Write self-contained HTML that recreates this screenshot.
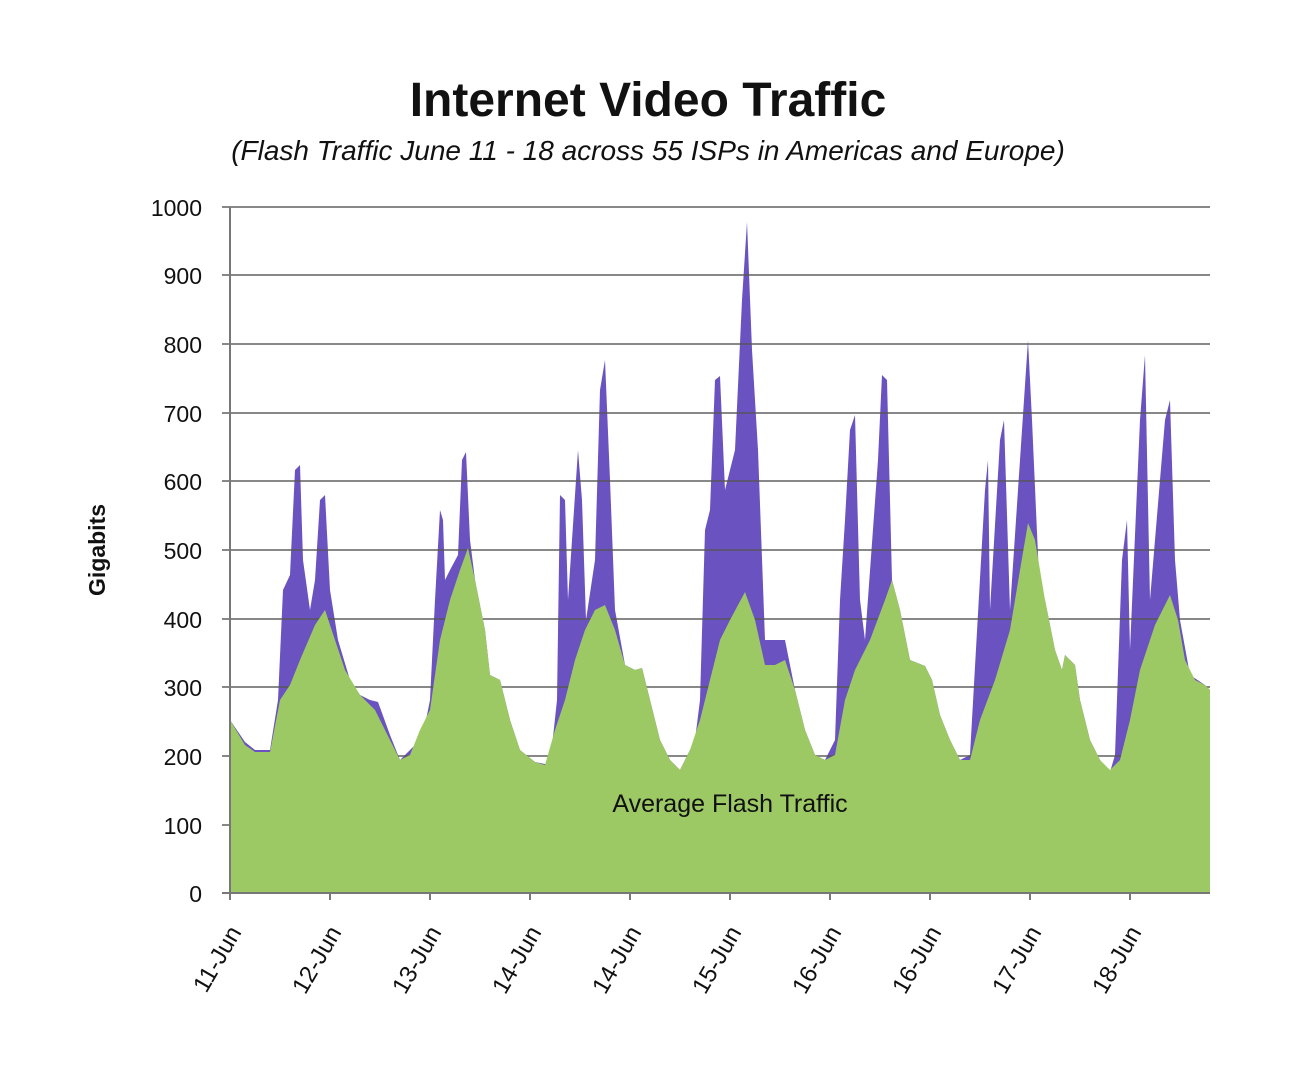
<!DOCTYPE html>
<html><head><style>body{margin:0;background:#fff}</style></head><body>
<svg width="1300" height="1079" viewBox="0 0 1300 1079" xmlns="http://www.w3.org/2000/svg" font-family="Liberation Sans, sans-serif">
<text x="648" y="116" text-anchor="middle" font-size="48" font-weight="bold" fill="#111">Internet Video Traffic</text>
<text x="648" y="160" text-anchor="middle" font-size="28" font-style="italic" fill="#111">(Flash Traffic June 11 - 18 across 55 ISPs in Americas and Europe)</text>
<path fill="#6a52c0" d="M230,720 L245,742 L255,750 L270,750 L278,700 L283,590 L290,575 L295,470 L300,465 L303,560 L310,610 L315,580 L320,500 L325,495 L330,590 L338,640 L350,680 L360,695 L370,700 L378,702 L390,735 L400,760 L415,745 L425,725 L430,700 L435,600 L440,510 L443,520 L445,580 L450,570 L458,555 L462,460 L466,452 L470,540 L475,580 L485,630 L490,675 L500,680 L510,720 L520,750 L535,762 L550,765 L557,700 L560,495 L565,500 L568,600 L572,540 L578,450 L582,500 L586,620 L595,560 L600,390 L605,360 L610,480 L615,610 L625,665 L635,670 L642,668 L650,700 L660,740 L670,760 L680,770 L690,750 L695,740 L700,700 L705,530 L710,510 L715,380 L720,376 L725,490 L735,450 L742,300 L747,222 L752,350 L758,450 L765,640 L775,640 L785,640 L795,690 L805,730 L815,755 L825,760 L835,740 L840,600 L845,520 L850,430 L855,415 L860,600 L865,640 L878,460 L882,375 L887,380 L892,580 L900,610 L910,660 L925,666 L932,680 L940,715 L950,740 L960,760 L970,755 L985,490 L988,460 L990,610 L1000,440 L1004,420 L1010,610 L1022,430 L1028,340 L1032,420 L1040,600 L1045,600 L1055,650 L1062,670 L1065,655 L1075,665 L1080,700 L1090,740 L1100,760 L1110,772 L1115,755 L1122,560 L1127,520 L1130,650 L1140,420 L1145,355 L1150,600 L1165,420 L1170,400 L1175,560 L1180,620 L1190,675 L1205,685 L1210,690 L1210,893 L230,893 Z"/>
<g stroke="#555" stroke-width="2" stroke-opacity="0.7">
<line x1="222" y1="207" x2="1210" y2="207"/><line x1="222" y1="275" x2="1210" y2="275"/><line x1="222" y1="344" x2="1210" y2="344"/><line x1="222" y1="413" x2="1210" y2="413"/><line x1="222" y1="481" x2="1210" y2="481"/><line x1="222" y1="550" x2="1210" y2="550"/><line x1="222" y1="619" x2="1210" y2="619"/><line x1="222" y1="687" x2="1210" y2="687"/><line x1="222" y1="756" x2="1210" y2="756"/><line x1="222" y1="825" x2="1210" y2="825"/>
</g>
<path fill="#9dc965" d="M230,720 L245,745 L255,752 L270,752 L280,700 L290,685 L300,660 L315,625 L325,610 L335,640 L345,670 L360,695 L375,710 L390,740 L400,760 L410,755 L420,730 L430,710 L440,640 L450,600 L460,570 L468,548 L475,580 L485,630 L490,675 L500,680 L510,720 L520,750 L535,762 L545,765 L555,730 L565,700 L575,660 L585,630 L595,610 L605,605 L615,630 L625,665 L635,670 L642,668 L650,700 L660,740 L670,760 L680,770 L690,750 L700,720 L710,680 L720,640 L730,620 L745,592 L755,620 L765,665 L775,665 L785,660 L795,690 L805,730 L815,755 L825,760 L835,755 L845,700 L855,670 L870,640 L885,600 L892,580 L900,610 L910,660 L925,666 L932,680 L940,715 L950,740 L960,760 L970,760 L980,720 L995,680 L1010,630 L1020,570 L1028,523 L1035,540 L1045,600 L1055,650 L1062,670 L1065,655 L1075,665 L1080,700 L1090,740 L1100,760 L1110,770 L1120,760 L1130,720 L1140,670 L1155,625 L1170,595 L1178,620 L1185,660 L1195,680 L1205,685 L1210,690 L1210,893 L230,893 Z"/>
<line x1="222" y1="893" x2="1210" y2="893" stroke="#777" stroke-width="2"/>
<line x1="230" y1="207" x2="230" y2="900" stroke="#777" stroke-width="2"/>
<g stroke="#777" stroke-width="2">
<line x1="330" y1="893" x2="330" y2="900"/><line x1="430" y1="893" x2="430" y2="900"/><line x1="530" y1="893" x2="530" y2="900"/><line x1="630" y1="893" x2="630" y2="900"/><line x1="730" y1="893" x2="730" y2="900"/><line x1="830" y1="893" x2="830" y2="900"/><line x1="930" y1="893" x2="930" y2="900"/><line x1="1030" y1="893" x2="1030" y2="900"/><line x1="1130" y1="893" x2="1130" y2="900"/>
</g>
<g font-size="23" text-anchor="end" fill="#111">
<text x="202" y="216">1000</text><text x="202" y="284">900</text><text x="202" y="353">800</text><text x="202" y="422">700</text><text x="202" y="490">600</text><text x="202" y="559">500</text><text x="202" y="628">400</text><text x="202" y="696">300</text><text x="202" y="765">200</text><text x="202" y="834">100</text><text x="202" y="902">0</text>
</g>
<text transform="translate(105,550) rotate(-90)" text-anchor="middle" font-size="23" font-weight="bold" fill="#111">Gigabits</text>
<text x="730" y="812" text-anchor="middle" font-size="25" fill="#111">Average Flash Traffic</text>
<g font-size="24" text-anchor="end" fill="#111">
<text transform="translate(242,932) rotate(-60)">11-Jun</text>
<text transform="translate(342,932) rotate(-60)">12-Jun</text>
<text transform="translate(442,932) rotate(-60)">13-Jun</text>
<text transform="translate(542,932) rotate(-60)">14-Jun</text>
<text transform="translate(642,932) rotate(-60)">14-Jun</text>
<text transform="translate(742,932) rotate(-60)">15-Jun</text>
<text transform="translate(842,932) rotate(-60)">16-Jun</text>
<text transform="translate(942,932) rotate(-60)">16-Jun</text>
<text transform="translate(1042,932) rotate(-60)">17-Jun</text>
<text transform="translate(1142,932) rotate(-60)">18-Jun</text>
</g>
</svg>
</body></html>
